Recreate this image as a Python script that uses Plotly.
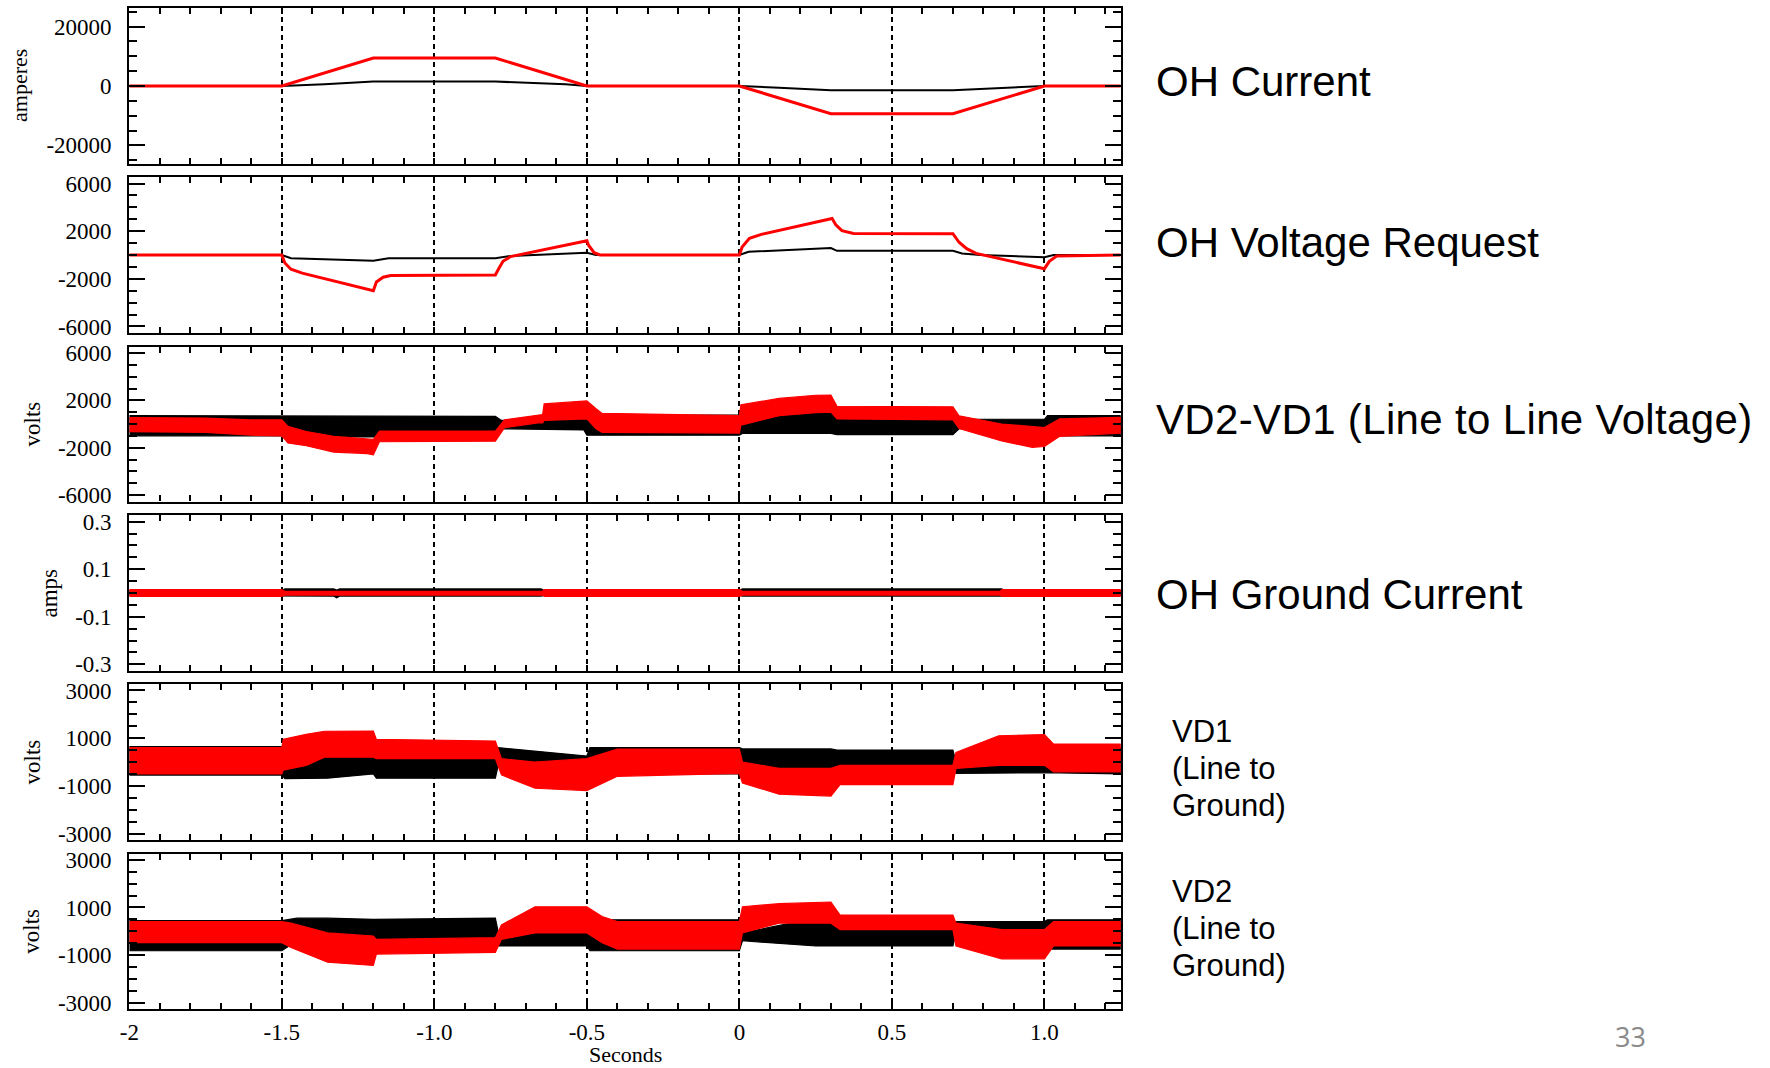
import plotly.graph_objects as go

W, H = 1770, 1068

# ---------------- data ----------------
# Panel 1: OH Current (amperes)
CUR_T_RED = [-2.0, -1.5, -1.2, -0.8, -0.5, 0.0, 0.3, 0.7, 1.0, 1.25]
CUR_V_RED = [0, 0, 9400, 9400, 0, 0, -9300, -9300, 0, 0]
CUR_T_BLK = [-2.0, -1.5, -1.36, -1.2, -0.8, -0.67, -0.57, -0.5, 0.0, 0.13, 0.3, 0.7, 0.83, 1.0, 1.25]
CUR_V_BLK = [0, 0, 560, 1500, 1500, 1100, 560, 0, 0, -560, -1400, -1400, -890, 0, 0]

# Panel 2: OH Voltage Request
VRQ_T_RED = [-2.0, -1.5, -1.49, -1.47, -1.433, -1.2, -1.19, -1.168, -1.143, -0.8, -0.79, -0.775,
             -0.75, -0.5, -0.494, -0.476, -0.457, 0.0, 0.009, 0.033, 0.072, 0.304, 0.316, 0.336,
             0.374, 0.70, 0.72, 0.745, 0.776, 1.0, 1.016, 1.04, 1.25]
VRQ_V_RED = [0, 0, -670, -1200, -1520, -3000, -2270, -1870, -1730, -1680, -1200, -530,
             -130, 1200, 800, 190, 0, 0, 670, 1410, 1730, 3070, 2530, 2050,
             1810, 1790, 1070, 530, 130, -1150, -530, -80, 0]
VRQ_T_BLK = [-2.0, -1.5, -1.47, -1.2, -1.15, -0.8, -0.75, -0.5, -0.47, 0.0, 0.03, 0.3, 0.32,
             0.7, 0.73, 0.79, 1.0, 1.03, 1.25]
VRQ_V_BLK = [0, 0, -270, -480, -270, -270, -80, 190, 0, 0, 270, 590, 350,
             350, 130, 0, -190, 0, 0]

# Panel 3: VD2-VD1 line to line voltage (noisy band: upper / lower envelope)
VLL_T_RED = [-2.0, -1.75, -1.6, -1.5, -1.48, -1.42, -1.33, -1.22, -1.2, -1.18, -1.0, -0.8,
             -0.77, -0.66, -0.645, -0.64, -0.5, -0.47, -0.45, 0.0, 0.005, 0.13, 0.25, 0.3,
             0.32, 0.7, 0.72, 0.86, 0.96, 1.0, 1.05, 1.25]
VLL_HI_RED = [550, 500, 350, 350, -200, -640, -1040, -1300, -1300, -600, -600, -600,
              350, 750, 800, 1700, 1950, 1300, 900, 700, 1630, 2160, 2430, 2450,
              1500, 1450, 700, 0, -240, -300, 430, 560]
VLL_LO_RED = [-650, -700, -950, -1000, -1600, -1840, -2370, -2500, -2600, -1500, -1450, -1450,
              -300, 100, 100, 300, 430, -400, -700, -770, -100, 700, 960, 1000,
              430, 350, -370, -1440, -1970, -1900, -1040, -770]
VLL_T_BLK = [-2.0, -1.5, -1.49, -0.8, -0.78, -0.51, -0.5, 0.0, 0.01, 0.3, 0.32, 0.7,
             0.72, 1.0, 1.01, 1.25]
VLL_HI_BLK = [700, 700, 650, 650, 300, 450, 750, 750, 750, 1350, 700, 700,
              400, 400, 700, 700]
VLL_LO_BLK = [-1000, -1000, -1100, -1100, -400, -500, -950, -950, -800, -800, -900, -900,
              -400, -400, -1000, -1000]

# Panel 4: OH Ground Current (amps)
GND_T_RED = [-2.0, -1.5, -1.49, -0.645, -0.64, 0.0, 0.01, 0.855, 0.86, 1.25]
GND_HI_RED = [0.014, 0.014, 0.007, 0.007, 0.014, 0.014, 0.007, 0.007, 0.014, 0.014]
GND_LO_RED = [-0.014, -0.014, -0.009, -0.009, -0.014, -0.014, -0.009, -0.009, -0.014, -0.014]
GND_T_BLK = [-2.0, -1.5, -1.49, -1.33, -1.32, -1.31, -0.65, -0.64, 0.0, 0.01, 0.86, 0.87, 1.25]
GND_HI_BLK = [0.01, 0.01, 0.017, 0.017, 0.012, 0.017, 0.017, 0.01, 0.01, 0.017, 0.017, 0.01, 0.01]
GND_LO_BLK = [-0.01, -0.01, -0.013, -0.013, -0.02, -0.013, -0.013, -0.01, -0.01, -0.013, -0.013, -0.01, -0.01]

# Panel 5: VD1 line to ground
VD1_T_RED = [-2.0, -1.5, -1.495, -1.42, -1.36, -1.2, -1.19, -0.8, -0.78, -0.67, -0.5, -0.4,
             0.0, 0.01, 0.13, 0.3, 0.33, 0.7, 0.71, 0.85, 1.0, 1.03, 1.25]
VD1_HI_RED = [600, 600, 950, 1160, 1290, 1300, 950, 880, 140, 0, 140, 540,
              540, 0, -270, -270, -140, -140, 400, 1100, 1150, 750, 750]
VD1_LO_RED = [-500, -500, -340, -140, 200, 200, 140, 140, -540, -1100, -1200, -600,
              -480, -880, -1350, -1430, -950, -950, -270, -140, -140, -410, -410]
VD1_T_BLK = [-2.0, -1.5, -1.49, -1.35, -1.2, -1.19, -0.8, -0.79, -0.5, -0.49, 0.0, 0.01,
             0.3, 0.32, 0.7, 0.71, 1.0, 1.01, 1.25]
VD1_HI_BLK = [650, 650, 500, 650, 800, 300, 300, 600, 250, 600, 600, 550,
              550, 500, 500, 0, 0, 600, 600]
VD1_LO_BLK = [-550, -550, -700, -680, -500, -680, -680, -100, -300, -500, -500, -400,
              -750, -300, -300, -480, -450, -450, -500]

# Panel 6: VD2 line to ground
VD2_T_RED = [-2.0, -1.5, -1.47, -1.35, -1.2, -1.19, -0.8, -0.78, -0.67, -0.5, -0.45, -0.4,
             0.0, 0.01, 0.13, 0.3, 0.33, 0.7, 0.71, 0.86, 1.0, 1.03, 1.25]
VD2_HI_RED = [410, 410, 340, -70, -200, -340, -270, 270, 1030, 1030, 620, 410,
              410, 1030, 1160, 1230, 680, 680, 340, 70, 70, 410, 410]
VD2_LO_RED = [-480, -480, -680, -1300, -1440, -960, -890, -340, -70, -70, -480, -750,
              -750, -70, 340, 340, 70, 70, -620, -1160, -1160, -620, -620]
VD2_T_BLK = [-2.0, -1.5, -1.45, -1.35, -1.2, -0.8, -0.79, -0.5, -0.49, 0.0, 0.01, 0.25,
             0.3, 0.33, 0.7, 0.71, 1.0, 1.01, 1.25]
VD2_HI_BLK = [450, 450, 550, 550, 500, 550, -70, -70, 480, 480, -70, 550,
              550, 200, 200, 410, 410, 480, 480]
VD2_LO_BLK = [-820, -820, -400, -750, -800, -500, -620, -620, -820, -820, -400, -620,
              -620, -620, -620, -70, -70, -750, -750]

# axis definitions
X_RANGE = [-2.0, 1.25]
X_TICKVALS = [-2.0, -1.5, -1.0, -0.5, 0.0, 0.5, 1.0]
X_TICKTEXT = ["-2", "-1.5", "-1.0", "-0.5", "0", "0.5", "1.0"]

Y_RANGES = [[-26250, 26250], [-6550, 6550], [-6550, 6550], [-0.328, 0.328], [-3270, 3270], [-3270, 3270]]
Y_TICKVALS = [[-20000, 0, 20000], [-6000, -2000, 2000, 6000], [-6000, -2000, 2000, 6000],
              [-0.3, -0.1, 0.1, 0.3], [-3000, -1000, 1000, 3000], [-3000, -1000, 1000, 3000]]
Y_TICKTEXT = [["-20000", "0", "20000"], ["-6000", "-2000", "2000", "6000"],
              ["-6000", "-2000", "2000", "6000"], ["-0.3", "-0.1", "0.1", "0.3"],
              ["-3000", "-1000", "1000", "3000"], ["-3000", "-1000", "1000", "3000"]]
Y_MINOR = [5000, 1000, 1000, 0.05, 500, 500]
Y_TITLES = ["amperes", "", "volts", "amps", "volts", "volts"]
X_TITLE = "Seconds"

RIGHT_LABELS = ["OH Current", "OH Voltage Request", "VD2-VD1 (Line to Line Voltage)", "OH Ground Current"]
SIDE_LABELS = [["VD1", "(Line to", "Ground)"], ["VD2", "(Line to", "Ground)"]]
PAGE_NO = "33"

# ---------------- layout geometry (pixels) ----------------
X0, X1 = 129.3, 1120.7
PANELS = [(8, 164), (177, 333), (346.5, 501.5), (515, 671), (684, 840), (853.5, 1009)]

RED = "#ff0000"
BLK = "#000000"
SERIF = "Liberation Serif"
SANS = "Liberation Sans"

fig = go.Figure()


def ax_id(i):
    return "" if i == 1 else str(i)


def add_line(t, v, color, width, i):
    fig.add_trace(go.Scatter(x=t, y=v, mode="lines", line=dict(color=color, width=width),
                             xaxis="x" + ax_id(i), yaxis="y" + ax_id(i), showlegend=False,
                             hoverinfo="skip"))


def add_band(t, hi, lo, color, i):
    xs = list(t) + list(t)[::-1]
    ys = list(hi) + list(lo)[::-1]
    fig.add_trace(go.Scatter(x=xs, y=ys, mode="lines", fill="toself", fillcolor=color,
                             line=dict(color=color, width=1.2),
                             xaxis="x" + ax_id(i), yaxis="y" + ax_id(i), showlegend=False,
                             hoverinfo="skip"))


add_line(CUR_T_BLK, CUR_V_BLK, BLK, 2, 1)
add_line(CUR_T_RED, CUR_V_RED, RED, 3, 1)
add_line(VRQ_T_BLK, VRQ_V_BLK, BLK, 2, 2)
add_line(VRQ_T_RED, VRQ_V_RED, RED, 3, 2)
add_band(VLL_T_BLK, VLL_HI_BLK, VLL_LO_BLK, BLK, 3)
add_band(VLL_T_RED, VLL_HI_RED, VLL_LO_RED, RED, 3)
add_band(GND_T_BLK, GND_HI_BLK, GND_LO_BLK, BLK, 4)
add_band(GND_T_RED, GND_HI_RED, GND_LO_RED, RED, 4)
add_band(VD1_T_BLK, VD1_HI_BLK, VD1_LO_BLK, BLK, 5)
add_band(VD1_T_RED, VD1_HI_RED, VD1_LO_RED, RED, 5)
add_band(VD2_T_BLK, VD2_HI_BLK, VD2_LO_BLK, BLK, 6)
add_band(VD2_T_RED, VD2_HI_RED, VD2_LO_RED, RED, 6)

layout = dict(
    width=W, height=H, autosize=False,
    margin=dict(l=0, r=0, t=0, b=0, pad=0),
    paper_bgcolor="white", plot_bgcolor="white",
    showlegend=False,
)

annotations = []
for i, (ytop, ybot) in enumerate(PANELS, start=1):
    dom_y = [1 - ybot / H, 1 - ytop / H]
    layout["xaxis" + ax_id(i)] = dict(
        domain=[X0 / W, X1 / W], anchor="y" + ax_id(i), range=X_RANGE, automargin=False,
        tickmode="array", tickvals=X_TICKVALS, ticktext=X_TICKTEXT,
        showticklabels=(i == 6), ticks="inside", ticklen=6, tickwidth=1.5, tickcolor=BLK,
        minor=dict(dtick=0.1, tick0=0, ticks="inside", ticklen=6, tickwidth=1.5,
                   tickcolor=BLK, showgrid=False),
        showgrid=True, gridcolor=BLK, gridwidth=2.1, griddash="5px,4px",
        showline=True, linecolor=BLK, linewidth=2.2, mirror="allticks", zeroline=False,
        tickfont=dict(family=SERIF, size=23, color=BLK), ticklabelstandoff=1,
        fixedrange=True,
    )
    layout["yaxis" + ax_id(i)] = dict(
        domain=dom_y, anchor="x" + ax_id(i), range=Y_RANGES[i - 1], automargin=False,
        tickmode="array", tickvals=Y_TICKVALS[i - 1], ticktext=Y_TICKTEXT[i - 1],
        ticks="inside", ticklen=16, tickwidth=2, tickcolor=BLK,
        minor=dict(dtick=Y_MINOR[i - 1], tick0=0, ticks="inside", ticklen=8, tickwidth=2,
                   tickcolor=BLK, showgrid=False),
        showgrid=False, showline=True, linecolor=BLK, linewidth=2.2, mirror="allticks",
        zeroline=False, tickfont=dict(family=SERIF, size=23, color=BLK),
        ticklabelstandoff=11, fixedrange=True,
    )
    if Y_TITLES[i - 1]:
        tx = {"amperes": 20, "volts": 31.5, "amps": 48.5}[Y_TITLES[i - 1]]
        fs = 22 if Y_TITLES[i - 1] == "amperes" else 23
        annotations.append(dict(
            text=Y_TITLES[i - 1], xref="paper", yref="paper",
            x=tx / W, y=1 - (ytop + ybot) / 2 / H, xanchor="center", yanchor="middle",
            textangle=-90, showarrow=False, font=dict(family=SERIF, size=fs, color=BLK)))

annotations.append(dict(text=X_TITLE, xref="paper", yref="paper", x=(X0 + X1) / 2 / W,
                        y=1 - 1054 / H, xanchor="center", yanchor="middle", showarrow=False,
                        font=dict(family=SERIF, size=22, color=BLK)))

RIGHT_Y = [82, 243, 419, 594]
for lab, yc in zip(RIGHT_LABELS, RIGHT_Y):
    txt = lab
    if lab.startswith("VD2-VD1"):
        txt = '<span style="letter-spacing:0.35px">' + lab + '</span>'
    annotations.append(dict(text=txt, xref="paper", yref="paper", x=1154 / W, y=1 - yc / H,
                            xanchor="left", yanchor="middle", showarrow=False, align="left",
                            font=dict(family=SANS, size=42, color=BLK)))

SIDE_Y = [[731.5, 768.5, 805.5], [891.5, 928.5, 965.5]]
for lines, ys in zip(SIDE_LABELS, SIDE_Y):
    for lab, yc in zip(lines, ys):
        annotations.append(dict(text=lab, xref="paper", yref="paper", x=1170 / W, y=1 - yc / H,
                                xanchor="left", yanchor="middle", showarrow=False, align="left",
                                font=dict(family=SANS, size=31, color=BLK)))

annotations.append(dict(text=PAGE_NO, xref="paper", yref="paper", x=1630 / W, y=1 - 1036.5 / H,
                        xanchor="center", yanchor="middle", showarrow=False,
                        font=dict(family="Open Sans", size=27, color="#8a8a8a")))

layout["annotations"] = annotations
fig.update_layout(**layout)
fig.write_html("out.html",
               post_script="document.body.style.margin='0';document.body.style.overflow='hidden';")
